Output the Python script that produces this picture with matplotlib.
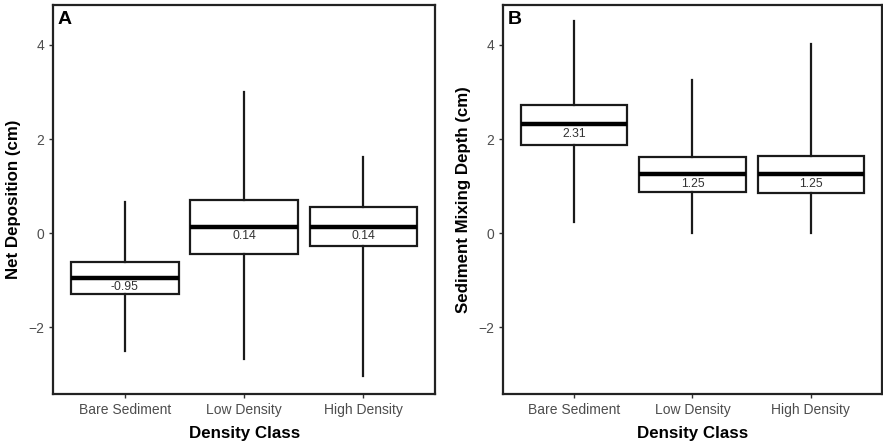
"""Two-panel boxplot: net deposition and sediment mixing depth by density class."""

import matplotlib
matplotlib.use("Agg")
import matplotlib.pyplot as plt

plt.rcParams["font.family"] = ["Liberation Sans", "DejaVu Sans"]

CLASSES = ["Bare Sediment", "Low Density", "High Density"]

# panel A: net deposition (cm)
dep_whislo = [-2.51, -2.67, -3.03]
dep_q1 = [-1.30, -0.44, -0.28]
dep_med = [-0.95, 0.14, 0.14]
dep_q3 = [-0.62, 0.70, 0.55]
dep_whishi = [0.66, 3.01, 1.61]

# panel B: sediment mixing depth (cm)
mix_whislo = [0.23, 0.0, 0.0]
mix_q1 = [1.87, 0.88, 0.86]
mix_med = [2.31, 1.25, 1.25]
mix_q3 = [2.72, 1.61, 1.63]
mix_whishi = [4.51, 3.25, 4.01]

YLIM = (-3.42, 4.85)
TICK_GREY = "#4d4d4d"


def panel(ax, letter, ylabel, lo, q1, med, q3, hi):
    stats = [dict(whislo=a, q1=b, med=c, q3=d, whishi=e, fliers=[], label=lab)
             for a, b, c, d, e, lab in zip(lo, q1, med, q3, hi, CLASSES)]
    pos = range(1, len(CLASSES) + 1)
    ax.bxp(stats, positions=pos, widths=0.9, showcaps=False, patch_artist=True,
           boxprops=dict(facecolor="white", edgecolor="#1a1a1a", lw=1.6),
           whiskerprops=dict(color="#1a1a1a", lw=1.6),
           medianprops=dict(color="black", lw=3.2))
    for x, m in zip(pos, med):
        ax.annotate(f"{m:.2f}", xy=(x, m), xytext=(0, -2.5), textcoords="offset points",
                    ha="center", va="top", fontsize=8.8, color="#333333")
    ax.set_xlim(0.4, 3.6)
    ax.set_ylim(*YLIM)
    ax.set_yticks([-2, 0, 2, 4])
    ax.tick_params(axis="both", colors="#333333", labelcolor=TICK_GREY,
                   labelsize=10, length=3, width=1.0)
    ax.set_xlabel("Density Class", fontsize=12.2, fontweight="bold", labelpad=6)
    ax.set_ylabel(ylabel, fontsize=12.2, fontweight="bold", labelpad=5)
    for s in ax.spines.values():
        s.set_linewidth(1.6)
        s.set_color("#222222")
    ax.text(0.012, 0.985, letter, transform=ax.transAxes, ha="left", va="top",
            fontsize=14, fontweight="bold")


fig = plt.figure(figsize=(8.83, 4.43), dpi=100)
ax_a = fig.add_axes([0.0604, 0.110, 0.4322, 0.879])
ax_b = fig.add_axes([0.570, 0.110, 0.4285, 0.879])

panel(ax_a, "A", "Net Deposition (cm)", dep_whislo, dep_q1, dep_med, dep_q3, dep_whishi)
panel(ax_b, "B", "Sediment Mixing Depth (cm)", mix_whislo, mix_q1, mix_med, mix_q3, mix_whishi)

fig.savefig("out.png", dpi=100)
